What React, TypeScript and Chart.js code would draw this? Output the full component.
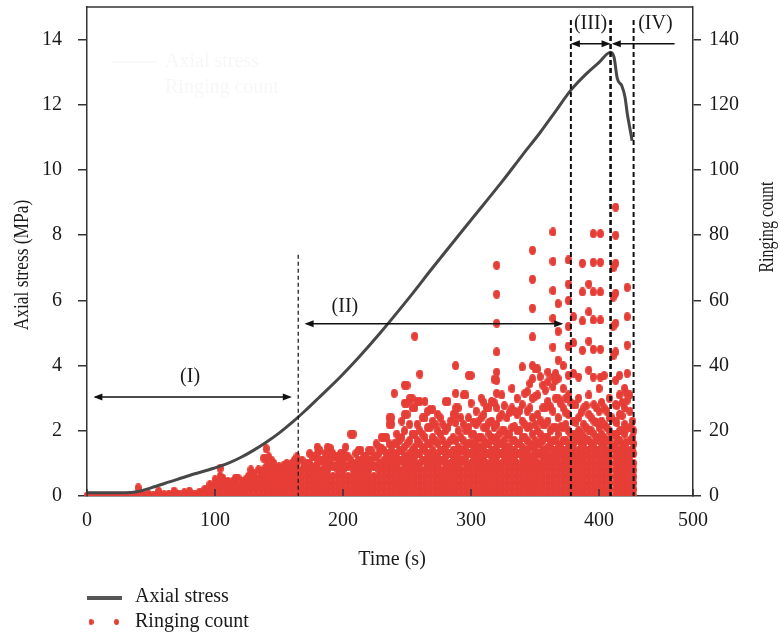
import React, { useEffect, useRef } from 'react';
import { Chart, registerables } from 'chart.js';

Chart.register(...registerables);

// ---------- data ----------
const stressTime = [0, 10, 20, 30, 39, 50, 65, 80, 99, 110, 120, 130, 140, 150, 160, 170, 182, 198, 212, 229, 250, 270, 291, 310, 325, 340, 354, 366, 378, 390, 400, 409, 411.7, 414.3, 417.7, 420.3, 422.1, 424, 425.8];
const stressMPa = [0.1, 0.1, 0.1, 0.1, 0.13, 0.25, 0.44, 0.63, 0.85, 1.0, 1.18, 1.4, 1.65, 1.93, 2.25, 2.6, 3.05, 3.66, 4.24, 5.0, 6.0, 7.0, 8.03, 8.95, 9.68, 10.45, 11.15, 11.8, 12.45, 12.95, 13.3, 13.61, 13.46, 12.8, 12.59, 12.23, 11.72, 11.3, 10.9];

// each row: [time (s), ringing counts observed at that time...]
const ringingStageI: number[][] = [
  [0, 0], [4, 0], [8, 0], [12, 0], [16, 0], [20, 0], [24, 0], [28, 0], [32, 0], [36, 0, 0.3],
  [40, 0, 0.5, 2.5], [44, 0, 0.4], [48, 0, 0.5], [52, 0, 0.3], [56, 0, 0.6, 1.4], [60, 0, 0.4], [64, 0, 0.6],
  [68, 0, 0.4, 1.5], [72, 0, 0.6], [76, 0, 0.4, 1], [80, 0, 0.6, 1.5], [84, 0, 0.6], [88, 0, 0.4, 1.2],
  [92, 0, 0.8, 2], [96, 0, 1.5, 3.5], [100, 0, 2, 3.5, 5], [104, 0, 2, 4, 6, 8.5], [108, 0, 2, 3.5],
  [112, 0, 2, 3], [116, 0, 2, 4, 5.5], [120, 0, 1.5, 3], [124, 0, 2, 3.5, 5], [128, 0, 2, 4, 6, 8],
  [132, 0, 2, 4, 5.5], [136, 0, 2, 4, 6, 7.5], [140, 0, 2, 4, 6, 9, 11.5, 14.5], [144, 0, 2, 4, 6, 8, 11],
  [148, 0, 2, 4, 6, 8.5], [152, 0, 2, 4, 6, 8], [156, 0, 2, 4, 6, 8, 10], [160, 0, 2, 4, 6, 8, 10],
  [164, 0, 2, 4, 6, 8, 10, 12],
];
const ringingScatterI: number[][] = [
  [102, 3], [106, 3, 5.5], [110, 3, 4.5], [114, 2.5, 4.5], [118, 3, 5.5], [122, 3, 4.5], [126, 3, 6],
  [130, 3, 5, 7], [134, 3, 5, 8], [138, 3, 5, 8, 11.6], [142, 3, 5, 7, 9, 12], [146, 3, 5, 7, 10],
  [150, 3, 5, 7, 9], [154, 3, 5, 7, 9.5], [158, 3, 5, 7, 9], [162, 3, 5, 7, 9, 11],
];

const ringingStageII: number[][] = [
  [168, 0, 2, 4, 6, 8, 11], [172, 0, 2, 4, 6, 8, 10], [176, 0, 2, 4, 6, 8, 12],
  [180, 0, 2, 4, 6, 8, 10, 13, 15], [184, 0, 2, 4, 6, 8, 11], [188, 0, 2, 4, 6, 8, 10, 12, 15],
  [192, 0, 2, 4, 6, 9, 13], [196, 0, 2, 4, 6, 8, 10, 12], [200, 0, 2, 4, 6, 8, 11, 13],
  [204, 0, 2, 4, 6, 9, 12], [208, 0, 2, 4, 6, 8, 10, 19], [212, 0, 2, 4, 6, 8, 11, 14],
  [216, 0, 2, 4, 6, 8, 10, 12], [220, 0, 2, 4, 6, 8, 10, 14], [224, 0, 2, 4, 6, 9, 12],
  [228, 0, 2, 4, 6, 8, 10, 13, 15], [232, 0, 2, 4, 6, 8, 11, 14, 18], [236, 0, 2, 4, 6, 8, 10, 12, 16, 22, 24],
  [240, 0, 2, 4, 6, 8, 10, 13, 16, 31.5], [244, 0, 2, 4, 6, 8, 11, 14, 17],
  [248, 0, 2, 4, 6, 8, 10, 12, 15, 20, 25, 28.5, 34], [252, 0, 2, 4, 6, 8, 10, 13, 17, 22, 30],
  [256, 0, 2, 4, 6, 8, 10, 12, 15, 19, 27, 49], [260, 0, 2, 4, 6, 8, 10, 13, 16, 20, 29, 37.4],
  [264, 0, 2, 4, 6, 8, 11, 14, 18, 24, 29], [268, 0, 2, 4, 6, 8, 10, 12, 16, 21, 26.5],
  [272, 0, 2, 4, 6, 8, 10, 13, 17, 22], [276, 0, 2, 4, 6, 8, 11, 14, 19, 24],
  [280, 0, 2, 4, 6, 8, 10, 12, 15, 20, 29], [284, 0, 2, 4, 6, 8, 10, 13, 17, 23],
  [288, 0, 2, 4, 6, 8, 10, 12, 14, 17, 22.5, 25, 27, 31.5, 40], [292, 0, 2, 4, 6, 8, 11, 14, 18, 24],
  [296, 0, 2, 4, 6, 8, 10, 12, 15, 20, 31], [300, 0, 2, 4, 6, 8, 10, 13, 16, 19, 28.5, 37],
  [304, 0, 2, 4, 6, 8, 10, 12, 14, 17, 22, 26], [308, 0, 2, 4, 6, 8, 10, 12, 15, 18, 24, 30],
  [312, 0, 2, 4, 6, 8, 10, 13, 16, 21, 27], [316, 0, 2, 4, 6, 8, 10, 12, 14, 18, 23, 29],
  [320, 0, 2, 4, 6, 8, 10, 12, 15, 18, 22, 27, 31.5, 35.5, 38, 44.2, 53, 61.9, 70.8],
  [324, 0, 2, 4, 6, 8, 10, 13, 16, 20, 25, 31], [328, 0, 2, 4, 6, 8, 10, 12, 15, 19, 24],
  [332, 0, 2, 4, 6, 8, 10, 12, 14, 17, 21, 27, 33], [336, 0, 2, 4, 6, 8, 10, 13, 16, 20, 25, 30],
  [340, 0, 2, 4, 6, 8, 10, 12, 15, 18, 23, 28, 39.6], [344, 0, 2, 4, 6, 8, 10, 12, 14, 17, 21, 26, 32],
  [348, 0, 2, 4, 6, 8, 10, 12, 15, 19, 24, 30, 36, 40, 48.8, 57.6, 66.5, 75.4],
  [352, 0, 2, 4, 6, 8, 10, 13, 16, 20, 25, 31, 39], [356, 0, 2, 4, 6, 8, 10, 12, 14, 17, 22, 27, 34],
  [360, 0, 2, 4, 6, 8, 10, 12, 15, 18, 23, 29, 35, 38],
  [364, 0, 2, 4, 6, 8, 10, 12, 14, 17, 21, 26, 33.5, 36.5, 45.7, 54.5, 63, 72, 81],
  [368, 0, 2, 4, 6, 8, 10, 12, 15, 19, 24, 30, 36, 41.7, 50.5, 59],
  [372, 0, 2, 4, 6, 8, 10, 12, 14, 17, 21, 27, 33, 40],
  [376, 0, 2, 4, 6, 8, 10, 13, 16, 20, 25, 31, 37, 46, 52, 60, 65, 72.4],
];
const ringingScatterII: number[][] = [
  [170, 9], [174, 10, 13], [178, 9, 12], [182, 11, 14], [186, 9, 13], [190, 11, 14.7], [194, 9, 12],
  [198, 10, 13], [202, 9, 12, 15], [206, 11, 19], [210, 9, 13], [214, 10, 14], [218, 9, 12],
  [222, 11, 14], [226, 9, 12, 16], [230, 10, 14.7, 18], [234, 9, 13, 18], [238, 11, 14, 22, 24],
  [242, 9, 12, 16, 19], [246, 11, 14, 18, 23], [250, 9, 12, 16, 25, 28.5, 34], [254, 11, 14, 19, 27, 30],
  [258, 9, 13, 17, 22, 29], [262, 11, 15, 19, 24], [266, 9, 13, 16, 21, 26], [270, 11, 14, 18, 23, 26.6],
  [274, 9, 12, 16, 20, 25], [278, 11, 14, 17, 22], [282, 9, 13, 16, 21, 29], [286, 11, 14, 18, 25],
  [290, 9, 12, 15, 20, 27], [294, 11, 14, 17, 22, 31], [298, 9, 13, 16, 21, 24, 37],
  [302, 11, 14, 16, 19, 22.6], [306, 9, 12, 15, 18, 23], [310, 11, 14, 17, 21, 25, 28.7],
  [314, 9, 13, 16, 19, 22.6, 27], [318, 11, 14, 17, 21, 28.7, 35.8], [322, 9, 13, 16, 19, 24],
  [326, 11, 14, 17, 20, 27.7], [330, 9, 12, 15, 19, 25.6], [334, 11, 14, 17, 21.3, 26],
  [338, 9, 13, 16, 20.2, 26.1], [342, 11, 14, 18, 22, 31.5], [346, 9, 12, 16, 21.3, 27, 34.5],
  [350, 11, 14, 17, 22, 30.5, 39], [354, 9, 13, 16, 19, 23.3, 36.6], [358, 11, 14, 18, 22, 27, 32.5],
  [362, 9, 12, 16, 20, 27.4], [366, 11, 14, 17, 21, 30, 35.5, 37.6], [370, 9, 13, 16, 21.3, 28.4],
  [374, 11, 14, 17, 22, 25.5, 30],
];

const ringingStageIII: number[][] = [
  [380, 0, 2, 4, 6, 8, 10, 12, 14, 16, 19, 23, 28, 37.6, 47, 55],
  [384, 0, 2, 4, 6, 8, 10, 12, 14, 17, 20, 24, 30, 36.5],
  [387, 44.7, 53.7, 62.6, 71.4],
  [388, 0, 2, 4, 6, 8, 10, 12, 14, 16, 18, 22, 27],
  [392, 0, 2, 4, 6, 8, 10, 12, 14, 17, 20, 25, 31, 38.6, 47.5, 56.5, 65],
  [395.5, 36.5, 45, 54, 62.6, 71.7, 80.5],
  [396, 0, 2, 4, 6, 8, 10, 12, 14, 16, 19, 23, 28],
  [400, 0, 2, 4, 6, 8, 10, 12, 14, 17, 21, 26, 33],
  [401, 36.5, 45, 54, 62.6, 71.7, 80.5],
  [404, 0, 2, 4, 6, 8, 10, 12, 14, 16, 18, 22, 27, 37],
  [408, 0, 2, 4, 6, 8, 10, 12, 14, 17, 20, 24, 30],
];
const ringingScatterIII: number[][] = [
  [378, 11, 15, 19, 28.7], [382, 13, 18, 22.6, 28], [386, 15, 19.4, 25.6], [390, 14, 17.4, 21, 27.7],
  [394, 16, 20, 24], [398, 14, 18, 22.6, 27], [402, 15, 18.9, 23, 28.7], [406, 14, 17, 21, 26],
];

const ringingStageIV: number[][] = [
  [411, 43, 52, 61, 70],
  [413, 0, 2, 4, 6, 8, 10, 12, 14, 16, 19, 23, 28, 35.5, 44.2, 53, 62.2, 71.4, 80, 88.6],
  [416, 0, 2, 4, 6, 8, 10, 12, 14, 17, 20, 25, 31, 37],
  [420, 0, 2, 4, 6, 8, 10, 12, 14, 16, 19, 22, 27, 33],
  [422, 29.4, 37.6, 46.3, 55, 64],
  [424, 0, 2, 4, 6, 8, 10, 12, 14, 17, 21, 26, 31],
  [427, 0, 2, 4, 6, 8, 10, 13, 16, 20],
];
const ringingScatterIV: number[][] = [
  [410, 15, 19, 24], [414, 14, 18, 22.5, 27.7], [418, 15, 20, 24.6, 28.7], [421, 16, 20.4, 31.7], [426, 14, 18, 23],
];

const xTickValues = [0, 100, 200, 300, 400, 473.4];
const xTickLabels = ['0', '100', '200', '300', '400', '500'];
const stressTicks = [0, 2, 4, 6, 8, 10, 12, 14];
const countTicks = [0, 20, 40, 60, 80, 100, 120, 140];

const phaseBoundaries = [165, 378, 409, 427];
const phaseBoundaryTops = [7.4, 14.6, 14.6, 14.6];
const phaseLabels = ['(I)', '(II)', '(III)', '(IV)'];
const phaseArrowFrom = [5, 170, 378, 410];
const phaseArrowTo = [160, 372, 409, 459];
const phaseArrowLevel = [3.04, 5.28, 13.87, 13.87];
const phaseLabelTime = [80.5, 201.5, 393.4, 444];
const phaseLabelLevel = [3.65, 5.79, 14.49, 14.49];

const seriesNames = ['Axial stress', 'Ringing count'];
const axisTitles = ['Time (s)', 'Axial stress (MPa)', 'Ringing count'];

// ---------- helpers ----------
const RED = '#e63e37';
const SERIF = '"Liberation Serif", "Times New Roman", serif';

function toPoints(rows: number[][]) {
  const pts: { x: number; y: number }[] = [];
  rows.forEach((r) => {
    for (let i = 1; i < r.length; i++) pts.push({ x: r[0], y: r[i] });
  });
  return pts;
}

function makeDot(w: number, h: number, color: string) {
  const c = document.createElement('canvas');
  c.width = w;
  c.height = h;
  const g = c.getContext('2d')!;
  g.fillStyle = color;
  g.beginPath();
  g.ellipse(w / 2, h / 2, w / 2, h / 2, 0, 0, Math.PI * 2);
  g.fill();
  return c;
}

function arrowHead(ctx: CanvasRenderingContext2D, x: number, y: number, dir: number) {
  ctx.beginPath();
  ctx.moveTo(x, y);
  ctx.lineTo(x - dir * 9, y - 3.5);
  ctx.lineTo(x - dir * 9, y + 3.5);
  ctx.closePath();
  ctx.fill();
}

const noPad = (s: any) => {
  s.paddingTop = 0;
  s.paddingBottom = 0;
};

export default function App() {
  const ref = useRef<HTMLCanvasElement | null>(null);

  useEffect(() => {
    document.body.style.margin = '0';
    const canvas = ref.current!;
    const dot = makeDot(7, 9, RED);
    const legendDot = makeDot(5, 6, RED);

    const annotate = {
      id: 'annotate',
      afterDatasetsDraw(chart: any) {
        const { ctx, chartArea: a, scales } = chart;
        const xs = scales.x;
        const ys = scales.y;
        ctx.save();
        ctx.strokeStyle = '#111';
        ctx.fillStyle = '#111';
        phaseBoundaries.forEach((t: number, i: number) => {
          const px = xs.getPixelForValue(t);
          ctx.lineWidth = i === 0 ? 1.2 : i === 2 ? 2.6 : 2;
          ctx.setLineDash(i === 0 ? [4, 3] : [5, 3]);
          ctx.beginPath();
          ctx.moveTo(px, ys.getPixelForValue(phaseBoundaryTops[i]));
          ctx.lineTo(px, a.bottom);
          ctx.stroke();
        });
        ctx.setLineDash([]);
        ctx.lineWidth = 1.5;
        phaseArrowFrom.forEach((t0: number, i: number) => {
          const x0 = xs.getPixelForValue(t0);
          const x1 = xs.getPixelForValue(phaseArrowTo[i]);
          const y = ys.getPixelForValue(phaseArrowLevel[i]);
          ctx.beginPath();
          ctx.moveTo(x0 + 2, y);
          ctx.lineTo(x1 - (i === 3 ? 0 : 2), y);
          ctx.stroke();
          arrowHead(ctx, x0, y, -1);
          if (i !== 3) arrowHead(ctx, x1, y, 1);
        });
        ctx.font = '20px ' + SERIF;
        ctx.textAlign = 'center';
        ctx.textBaseline = 'middle';
        ctx.fillStyle = '#1a1a1a';
        phaseLabels.forEach((s: string, i: number) => {
          ctx.fillText(s, xs.getPixelForValue(phaseLabelTime[i]), ys.getPixelForValue(phaseLabelLevel[i]));
        });
        ctx.restore();
      },
      afterDraw(chart: any) {
        const { ctx, chartArea: a, scales } = chart;
        const xs = scales.x;
        ctx.save();
        ctx.strokeStyle = '#333';
        ctx.lineWidth = 1.5;
        ctx.beginPath();
        ctx.moveTo(a.left, a.top);
        ctx.lineTo(a.right, a.top);
        ctx.stroke();
        xTickValues.forEach((v: number) => {
          const px = xs.getPixelForValue(v);
          ctx.beginPath();
          ctx.moveTo(px, a.bottom);
          ctx.lineTo(px, a.bottom - 7);
          ctx.stroke();
        });
        // very faint ghost legend inside the plot
        ctx.strokeStyle = '#f7f7f7';
        ctx.fillStyle = '#f7f7f7';
        ctx.lineWidth = 1.5;
        ctx.beginPath();
        ctx.moveTo(112, 62);
        ctx.lineTo(157, 62);
        ctx.stroke();
        ctx.font = '20px ' + SERIF;
        ctx.textAlign = 'left';
        ctx.textBaseline = 'middle';
        ctx.fillText(seriesNames[0], 165, 62);
        ctx.fillText(seriesNames[1], 165, 88);
        // axis titles
        ctx.fillStyle = '#1a1a1a';
        ctx.textAlign = 'center';
        ctx.fillText(axisTitles[0], 392, 560);
        ctx.save();
        ctx.translate(23, 265);
        ctx.rotate(-Math.PI / 2);
        ctx.scale(0.87, 1);
        ctx.fillText(axisTitles[1], 0, 0);
        ctx.restore();
        ctx.save();
        ctx.translate(768, 227);
        ctx.rotate(-Math.PI / 2);
        ctx.scale(0.8, 1);
        ctx.fillText(axisTitles[2], 0, 0);
        ctx.restore();
        // bottom legend
        ctx.strokeStyle = '#555';
        ctx.lineWidth = 4;
        ctx.beginPath();
        ctx.moveTo(87, 598);
        ctx.lineTo(122, 598);
        ctx.stroke();
        ctx.drawImage(legendDot, 88.5, 619);
        ctx.drawImage(legendDot, 114, 619);
        ctx.textAlign = 'left';
        ctx.fillStyle = '#1a1a1a';
        ctx.fillText(seriesNames[0], 135, 597);
        ctx.fillText(seriesNames[1], 135, 622);
        ctx.restore();
      },
    };

    const ringing = [
      ...toPoints(ringingStageI),
      ...toPoints(ringingScatterI),
      ...toPoints(ringingStageII),
      ...toPoints(ringingScatterII),
      ...toPoints(ringingStageIII),
      ...toPoints(ringingScatterIII),
      ...toPoints(ringingStageIV),
      ...toPoints(ringingScatterIV),
    ];

    const chart = new Chart(canvas, {
      type: 'scatter',
      data: {
        datasets: [
          {
            label: seriesNames[0],
            data: stressTime.map((t, i) => ({ x: t, y: stressMPa[i] })),
            yAxisID: 'y',
            showLine: true,
            borderColor: '#474747',
            borderWidth: 3,
            pointRadius: 0,
            cubicInterpolationMode: 'monotone',
            order: 0,
          } as any,
          {
            label: seriesNames[1],
            data: ringing,
            yAxisID: 'y1',
            pointStyle: dot as any,
            pointRadius: 3.5,
            backgroundColor: RED,
            borderColor: RED,
            clip: { left: 4, right: 4, top: 4, bottom: 0 },
            order: 1,
          } as any,
        ],
      },
      options: {
        animation: false,
        responsive: false,
        devicePixelRatio: 1,
        layout: { padding: { top: 7, bottom: 63, left: 0, right: 0 } },
        plugins: { legend: { display: false }, tooltip: { enabled: false } },
        scales: {
          x: {
            type: 'linear',
            min: 0,
            max: 473.4,
            afterBuildTicks: (s: any) => {
              s.ticks = xTickValues.map((v) => ({ value: v }));
            },
            afterFit: (s: any) => {
              s.height = 80;
              s.paddingLeft = 0;
              s.paddingRight = 0;
            },
            ticks: {
              callback: (_v: any, i: number) => xTickLabels[i],
              font: { family: SERIF, size: 20 },
              color: '#1a1a1a',
              padding: 13,
              maxRotation: 0,
              autoSkip: false,
            },
            grid: { display: false, drawTicks: false },
            border: { display: true, color: '#333', width: 1.5 },
          },
          y: {
            type: 'linear',
            position: 'left',
            min: 0,
            max: 15,
            afterBuildTicks: (s: any) => {
              s.ticks = stressTicks.map((v) => ({ value: v }));
            },
            afterFit: (s: any) => {
              s.width = 87;
              noPad(s);
            },
            ticks: { font: { family: SERIF, size: 20 }, color: '#1a1a1a', padding: 16 },
            grid: { drawOnChartArea: false, drawTicks: true, tickLength: 9, color: '#333', lineWidth: 1.5 },
            border: { display: true, color: '#333', width: 1.5 },
          },
          y1: {
            type: 'linear',
            position: 'right',
            min: 0,
            max: 150,
            afterBuildTicks: (s: any) => {
              s.ticks = countTicks.map((v) => ({ value: v }));
            },
            afterFit: (s: any) => {
              s.width = 87;
              noPad(s);
            },
            ticks: { font: { family: SERIF, size: 20 }, color: '#1a1a1a', padding: 8 },
            grid: { drawOnChartArea: false, drawTicks: true, tickLength: 8, color: '#333', lineWidth: 1.5 },
            border: { display: true, color: '#333', width: 1.5 },
          },
        },
      } as any,
      plugins: [annotate],
    });

    return () => chart.destroy();
  }, []);

  return (
    <div style={{ width: 780, height: 639 }}>
      <canvas ref={ref} width={780} height={639} style={{ display: 'block', width: 780, height: 639 }} />
    </div>
  );
}
